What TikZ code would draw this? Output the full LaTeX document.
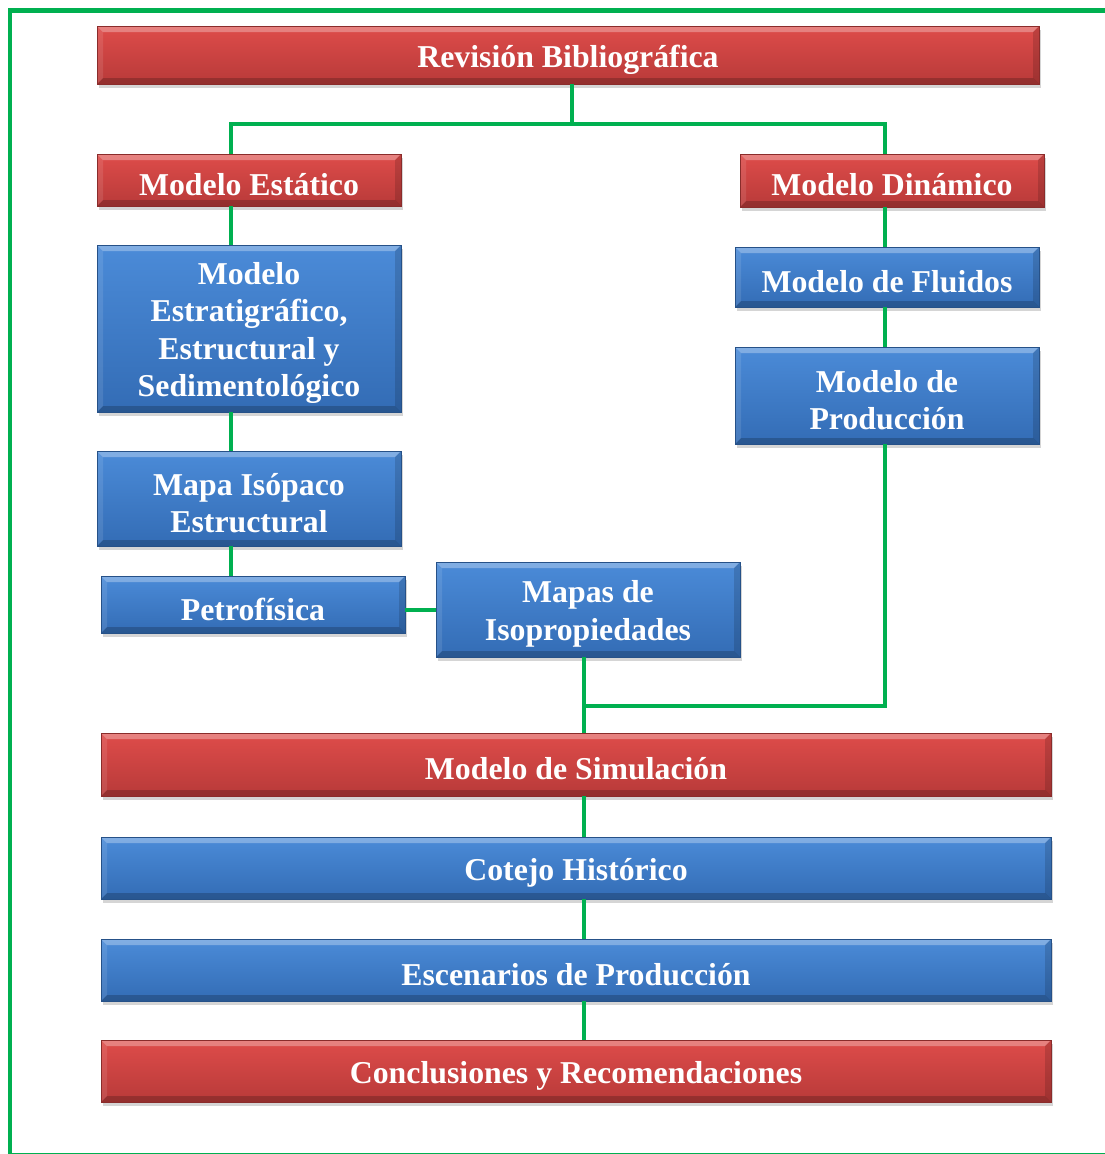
\documentclass[tikz,border=0pt]{standalone}
\usepackage{fontspec}
\setmainfont{Liberation Serif}
\usetikzlibrary{shadows}

\definecolor{redtop}{HTML}{DE4C4A}
\definecolor{redbot}{HTML}{B83A39}
\definecolor{bluetop}{HTML}{4B8BD8}
\definecolor{bluebot}{HTML}{336CB5}
\definecolor{linegreen}{HTML}{00B050}

\tikzset{
  bevel/.style={path picture={
      \path (path picture bounding box.north west) coordinate (pnw)
            (path picture bounding box.north east) coordinate (pne)
            (path picture bounding box.south west) coordinate (psw)
            (path picture bounding box.south east) coordinate (pse);
      % lit upper edge
      \fill[white,opacity=0.30] (pnw) -- (pne) -- ([shift={(-6pt,-6pt)}]pne)
            -- ([shift={(6pt,-6pt)}]pnw) -- cycle;
      % shaded lower edge
      \fill[black,opacity=0.20] (psw) -- (pse) -- ([shift={(-6pt,6pt)}]pse)
            -- ([shift={(6pt,6pt)}]psw) -- cycle;
      % side edges
      \fill[white,opacity=0.10] (pnw) -- (psw) -- ([shift={(6pt,6pt)}]psw)
            -- ([shift={(6pt,-6pt)}]pnw) -- cycle;
      \fill[black,opacity=0.14] (pne) -- (pse) -- ([shift={(-6pt,6pt)}]pse)
            -- ([shift={(-6pt,-6pt)}]pne) -- cycle;
    }},
  box/.style={rectangle, inner sep=0pt,
    drop shadow={shadow xshift=2pt, shadow yshift=-4pt, opacity=0.3, fill=black!55},
    bevel},
  redbox/.style={box, top color=redtop, bottom color=redbot, draw=redbot!75!black, line width=0.6pt},
  bluebox/.style={box, top color=bluetop, bottom color=bluebot, draw=bluebot!75!black, line width=0.6pt},
  boxtext/.style={inner sep=0pt, text=white, align=center,
    font=\bfseries\fontsize{31.8}{37.5}\selectfont},
  conn/.style={draw=linegreen, line width=4.5pt},
}

% a bevelled box with its caption set slightly below the box centre
\newcommand\flowbox[6]{%
  \node[#1, minimum width=#4, minimum height=#5] (#2) at (#3) {};
  \node[boxtext] (#2-t) at ([yshift=-4.5pt]#2.center) {#6};
}

\begin{document}
\begin{tikzpicture}[x=1pt,y=-1pt]
\useasboundingbox (0,0) rectangle (1105,1154);

% outer frame
\draw[linegreen, line width=4.5pt] (1112,10.5) -- (10,10.5) -- (10,1155) -- (1112,1155);

% static branch
\flowbox{redbox}{rev}{568,55}{942pt}{58pt}{Revisión Bibliográfica}
\flowbox{redbox}{est}{249,180}{304pt}{52pt}{Modelo Estático}
\flowbox{bluebox}{estr}{249,328.5}{304pt}{167pt}{Modelo\\Estratigráfico,\\Estructural y\\Sedimentológico}
\flowbox{bluebox}{isop}{249,498.5}{304pt}{95pt}{Mapa Isópaco\\Estructural}
\flowbox{bluebox}{petro}{253,604.5}{304pt}{57pt}{Petrofísica}
\flowbox{bluebox}{mapas}{588,609.5}{304pt}{95pt}{Mapas de\\Isopropiedades}

% dynamic branch
\flowbox{redbox}{din}{892,180.5}{304pt}{53pt}{Modelo Dinámico}
\flowbox{bluebox}{flu}{887,277}{304pt}{60pt}{Modelo de Fluidos}
\flowbox{bluebox}{prod}{887,395.5}{304pt}{97pt}{Modelo de\\Producción}

% simulation chain
\flowbox{redbox}{sim}{576,764.5}{950pt}{63pt}{Modelo de Simulación}
\flowbox{bluebox}{cot}{576,868}{950pt}{62pt}{Cotejo Histórico}
\flowbox{bluebox}{esc}{576,970}{950pt}{62pt}{Escenarios de Producción}
\flowbox{redbox}{conc}{576,1071}{950pt}{62pt}{Conclusiones y Recomendaciones}

% junction points
\coordinate (top) at (572,124);
\coordinate (cL) at (231,124);
\coordinate (cR) at (885,124);
\coordinate (cB) at (584,706);

% connectors
\draw[conn] (rev.south -| top) -- (top);
\draw[conn] (est.north -| cL) -- (cL) -- (cR) -- (din.north -| cR);
\draw[conn] (est.south -| cL) -- (estr.north -| cL);
\draw[conn] (estr.south -| cL) -- (isop.north -| cL);
\draw[conn] (isop.south -| cL) -- (petro.north -| cL);
\draw[conn] ([yshift=-0.5pt]mapas.west) -- ([yshift=-0.5pt]mapas.west -| petro.east);
\draw[conn] (din.south -| cR) -- (flu.north -| cR);
\draw[conn] (flu.south -| cR) -- (prod.north -| cR);
\draw[conn] (prod.south -| cR) |- (cB);
\draw[conn] (mapas.south -| cB) -- (sim.north -| cB);
\draw[conn] (sim.south -| cB) -- (cot.north -| cB);
\draw[conn] (cot.south -| cB) -- (esc.north -| cB);
\draw[conn] (esc.south -| cB) -- (conc.north -| cB);
\end{tikzpicture}
\end{document}
